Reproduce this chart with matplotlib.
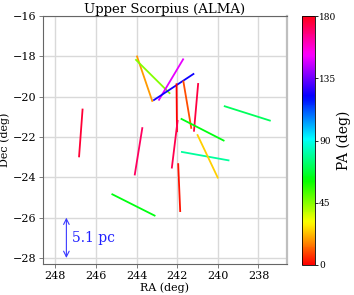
import matplotlib
matplotlib.use("Agg")
import matplotlib.pyplot as plt
import numpy as np
from matplotlib import cm
from matplotlib.colors import Normalize

plt.rcParams['font.family'] = ['DejaVu Serif']

# disk centres (deg), position angles (deg east of north)
ra = [246.74, 243.90, 244.15, 243.60, 243.20, 242.30, 242.17, 242.02,
      242.12, 241.90, 241.50, 241.07, 240.75, 238.55, 240.62, 240.50]
dec = [-21.80, -22.71, -25.37, -19.11, -19.00, -19.15, -19.52, -20.55,
       -22.36, -24.51, -20.40, -20.53, -21.64, -20.83, -22.95, -22.96]
pa = [175.8, 170.9, 63.1, 18.7, 45.0, 149.4, 123.6, 0.5,
      173.1, 2.4, 9.5, 175.0, 62.7, 72.3, 79.7, 25.2]
seg_len = 2.42  # deg

# scale bar
bar_ra = 247.45
bar_dec = [-26.0, -28.0]
bar_label = '5.1 pc'

cbar_ticks = [0, 45, 90, 135, 180]

fig = plt.figure(figsize=(3.54, 2.95), dpi=100)
ax = fig.add_axes([0.1215, 0.105, 0.689, 0.8407])
cax = fig.add_axes([0.853, 0.1017, 0.0367, 0.844])

norm = Normalize(0, 180)
cmap = plt.get_cmap('hsv')

for r, d, p in zip(ra, dec, pa):
    t = np.deg2rad(p)
    dr = 0.5 * seg_len * np.sin(t)
    dd = 0.5 * seg_len * np.cos(t)
    ax.plot([r + dr, r - dr], [d + dd, d - dd], color=cmap(norm(p)), lw=1.3,
            solid_capstyle='butt', zorder=3)

ax.annotate('', xy=(bar_ra, bar_dec[0]), xytext=(bar_ra, bar_dec[1]),
            arrowprops=dict(arrowstyle='<->', color='#3a3aff', lw=0.8,
                            shrinkA=0, shrinkB=0))
ax.text(bar_ra - 0.3, np.mean(bar_dec), bar_label, color='#2020ff',
        fontsize=10, va='center', ha='left')

ax.set_xlim(248.6, 236.6)
ax.set_ylim(-28.3, -16)
ax.set_xticks([248, 246, 244, 242, 240, 238])
ax.set_yticks([-16, -18, -20, -22, -24, -26, -28])
ax.tick_params(labelsize=8, length=3, width=0.6, color='0.4', pad=2)
ax.grid(True, color='0.85', lw=1.0, zorder=0)
ax.set_axisbelow(True)
for s in ['left', 'bottom', 'top']:
    ax.spines[s].set_color('0.4')
    ax.spines[s].set_linewidth(0.8)
ax.spines['right'].set_color('0.75')
ax.spines['right'].set_linewidth(1.6)

ax.set_xlabel('RA (deg)', fontsize=8, labelpad=1)
ax.set_ylabel('Dec (deg)', fontsize=8, labelpad=2)
ax.set_title('Upper Scorpius (ALMA)', fontsize=9.5, pad=2)

sm = cm.ScalarMappable(norm=norm, cmap=cmap)
cb = fig.colorbar(sm, cax=cax, ticks=cbar_ticks)
cb.ax.tick_params(labelsize=6.5, length=2, width=0.6, pad=1)
cb.outline.set_linewidth(0.6)
cb.set_label('PA (deg)', fontsize=10, labelpad=0)

fig.savefig('out.png', dpi=100)
